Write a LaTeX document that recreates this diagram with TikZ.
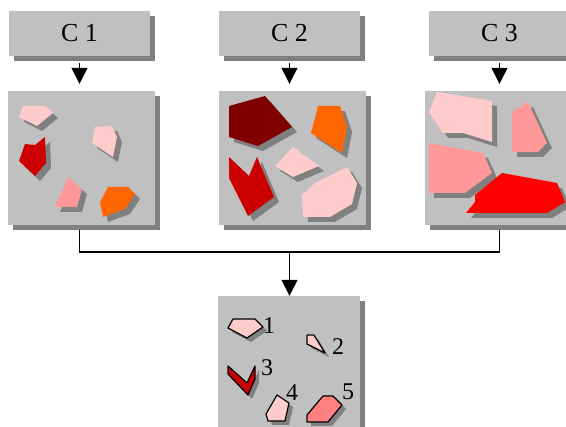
\documentclass[tikz,border=0pt]{standalone}
\usepackage{fontspec}
\setmainfont{Liberation Serif}
\usetikzlibrary{arrows.meta,shadows}

\definecolor{boxgray}{HTML}{C0C0C0}
\definecolor{shadowgray}{HTML}{808080}
\definecolor{pinkc}{HTML}{FFCCCC}
\definecolor{salmonc}{HTML}{FF9999}
\definecolor{rosec}{HTML}{FF8080}
\definecolor{redc}{HTML}{CC0000}
\definecolor{darkredc}{HTML}{800000}
\definecolor{orangec}{HTML}{FF6600}
\definecolor{brightredc}{HTML}{FF0000}

% a filled fragment with its grey drop shadow
\newcommand\piece[2]{%
  \fill[shadowgray, shift={(5,5)}] #2;
  \fill[#1] #2;}
% an outlined fragment with its grey drop shadow
\newcommand\outpiece[2]{%
  \fill[shadowgray, shift={(4,4)}] #2;
  \filldraw[fill=#1, draw=black, line width=1.2pt, line join=round] #2;}

\tikzset{
  boxshadow/.style={drop shadow={shadow xshift=5pt, shadow yshift=-5pt, fill=shadowgray, opacity=1}},
  capbox/.style={fill=boxgray, minimum width=141pt, minimum height=45pt, inner sep=0pt,
    font=\fontsize{26}{26}\selectfont, boxshadow},
  panel/.style={fill=boxgray, minimum width=147pt, minimum height=134pt, inner sep=0pt, boxshadow},
  wire/.style={line width=1.4pt, black},
  downarrow/.style={wire, -{Triangle[width=16pt, length=16pt]}},
  num/.style={font=\fontsize{24}{24}\selectfont, inner sep=0pt},
}

\begin{document}
\begin{tikzpicture}[x=1pt, y=-1pt]
\useasboundingbox (0,0) rectangle (566,427);
\clip (0,0) rectangle (566,427);

% class headers
\node[capbox] (c1) at (79.5,33.5) {C 1};
\node[capbox] (c2) at (289.5,33.5) {C 2};
\node[capbox] (c3) at (499.5,33.5) {C 3};

% class panels
\node[panel] (p1) at (81.5,158) {};
\node[panel] (p2) at (292.5,158) {};
\node[panel] (p3) at (498.5,158) {};

% result panel
\node[panel, minimum width=142pt, minimum height=150pt] (res) at (289,371) {};

% header -> panel arrows
\draw[downarrow, shorten >=7pt] ([yshift=-7pt]c1.south) -- (c1.south |- p1.north);
\draw[downarrow, shorten >=7pt] ([yshift=-7pt]c2.south) -- (c2.south |- p2.north);
\draw[downarrow, shorten >=7pt] ([yshift=-7pt]c3.south) -- (c3.south |- p3.north);

% merging connector
\coordinate (bus) at (289.5,252);
\draw[wire] ([yshift=-5pt]p1.south -| c1.south) |- (bus) -| ([yshift=-5pt]p3.south -| c3.south);
\draw[downarrow] (bus) -- (bus |- res.north);

% fragments of class 1
\piece{pinkc}{(23,106) -- (45,106) -- (53,113) -- (37,126) -- (19,117) -- cycle}
\piece{pinkc}{(95,127) -- (112,126) -- (117,137) -- (113,157) -- (92,143) -- cycle}
\piece{redc}{(25,144) -- (35,145) -- (45,137) -- (46,163) -- (35,176) -- (19,161) -- cycle}
\piece{salmonc}{(68,177) -- (82,189) -- (77,207) -- (55,207) -- cycle}
\piece{orangec}{(108,187) -- (128,187) -- (135,194) -- (125,209) -- (103,217) -- (100,202) -- cycle}

% fragments of class 2
\piece{darkredc}{(229,106) -- (265,96) -- (292,127) -- (258,146) -- (229,137) -- cycle}
\piece{orangec}{(318,106) -- (340,106) -- (347,127) -- (342,153) -- (311,133) -- cycle}
\piece{redc}{(229,157) -- (249,176) -- (257,157) -- (274,197) -- (248,216) -- (229,178) -- cycle}
\piece{pinkc}{(293,147) -- (319,166) -- (293,177) -- (275,166) -- cycle}
\piece{pinkc}{(302,195) -- (315,183) -- (347,167) -- (357,183) -- (352,204) -- (330,217) -- (303,217) -- cycle}

% fragments of class 3
\piece{pinkc}{(437,92) -- (492,101) -- (492,142) -- (463,133) -- (443,133) -- (429,112) -- cycle}
\piece{salmonc}{(512,112) -- (528,102) -- (547,143) -- (538,152) -- (512,152) -- cycle}
\piece{salmonc}{(429,143) -- (483,153) -- (492,173) -- (465,193) -- (429,193) -- cycle}
\piece{brightredc}{(502,173) -- (557,183) -- (565,202) -- (547,213) -- (466,213) -- (475,202) -- (475,195) -- cycle}

% selected fragments
\outpiece{pinkc}{(233,319) -- (255,319) -- (263,327) -- (247,338) -- (228,328) -- cycle}
\outpiece{pinkc}{(307,335) -- (314,335) -- (325,353) -- (307,344) -- cycle}
\outpiece{redc}{(228,366) -- (247,383) -- (255,366) -- (255,379) -- (248,395) -- (228,374) -- cycle}
\outpiece{pinkc}{(277,395) -- (289,403) -- (285,421) -- (268,421) -- (266,414) -- cycle}
\outpiece{rosec}{(323,396) -- (333,396) -- (342,405) -- (328,422) -- (307,422) -- (307,415) -- cycle}

\node[num] (n1) at (269,326) {1};
\node[num] (n2) at (338,347) {2};
\node[num] (n3) at (267,368) {3};
\node[num] (n4) at (292,393) {4};
\node[num] (n5) at (348,392) {5};
\end{tikzpicture}
\end{document}
